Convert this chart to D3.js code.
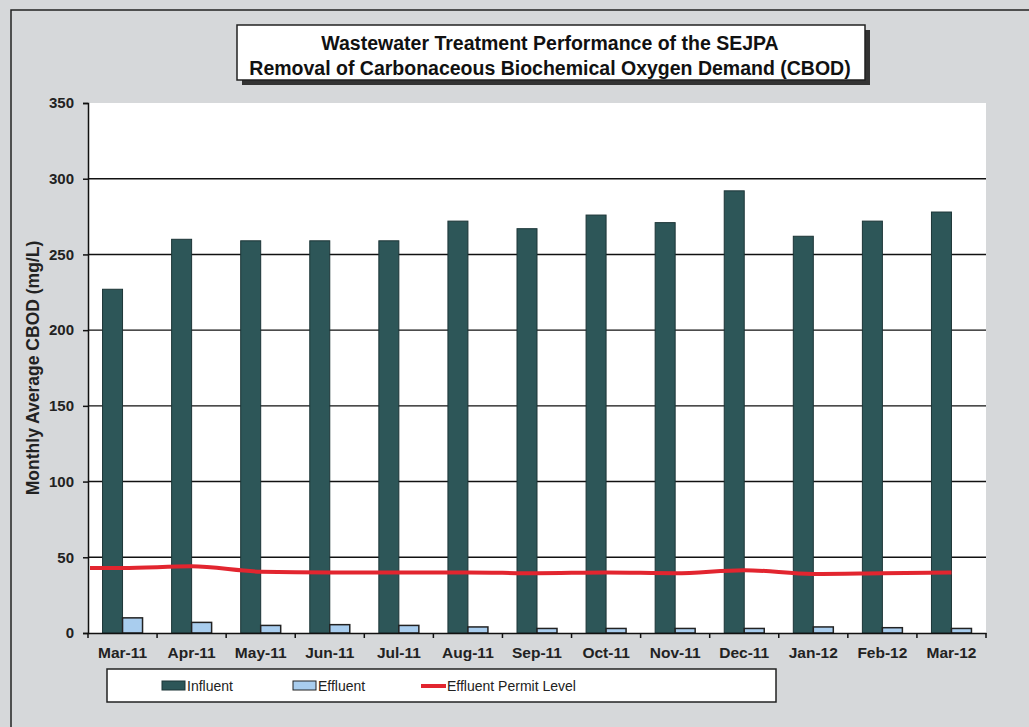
<!DOCTYPE html>
<html>
<head>
<meta charset="utf-8">
<script src="https://cdn.jsdelivr.net/npm/d3@7"></script>
<style>
  body { margin: 0; background: #d6d8da; }
  text { font-family: "Liberation Sans", Arial, sans-serif; }
</style>
</head>
<body>
<script>
const months   = ["Mar-11", "Apr-11", "May-11", "Jun-11", "Jul-11", "Aug-11", "Sep-11",
                  "Oct-11", "Nov-11", "Dec-11", "Jan-12", "Feb-12", "Mar-12"];
const influent = [227, 260, 259, 259, 259, 272, 267, 276, 271, 292, 262, 272, 278];
const effluent = [10, 7, 5, 5.5, 5, 4, 3, 3, 3, 3, 4, 3.5, 3];
const permit   = [43, 44, 40.5, 40, 40, 40, 39.5, 40, 39.5, 41.5, 39, 39.5, 40];
const yTicks   = [0, 50, 100, 150, 200, 250, 300, 350];

const width = 1029, height = 727;
const plot = {left: 88, top: 103, right: 986, bottom: 633};

const svg = d3.select("body").append("svg")
    .attr("width", width)
    .attr("height", height);

// page frame
svg.append("path")
    .attr("d", `M${width + 5},10 H11 V${height + 5}`)
    .attr("fill", "none")
    .attr("stroke", "#222")
    .attr("stroke-width", 1.5);

const x = d3.scaleBand().domain(months).range([plot.left, plot.right]);
const y = d3.scaleLinear().domain([0, 350]).range([plot.bottom, plot.top]);
const inner = d3.scaleBand().domain(["inf", "eff"]).range([0, 40]);
const groupOffset = (x.bandwidth() - 40) / 2;

// white plot area
svg.append("rect")
    .attr("x", plot.left).attr("y", plot.top)
    .attr("width", plot.right - plot.left).attr("height", plot.bottom - plot.top)
    .attr("fill", "#fff");

// gridlines
svg.append("g")
    .selectAll("line")
    .data(yTicks.filter(d => d > 0 && d < 350))
    .join("line")
      .attr("x1", plot.left).attr("x2", plot.right)
      .attr("y1", d => y(d)).attr("y2", d => y(d))
      .attr("stroke", "#111")
      .attr("stroke-width", 1.4);

// influent bars
svg.append("g")
    .selectAll("rect")
    .data(influent)
    .join("rect")
      .attr("x", (d, i) => x(months[i]) + groupOffset + inner("inf"))
      .attr("y", d => y(d))
      .attr("width", inner.bandwidth())
      .attr("height", d => y(0) - y(d))
      .attr("fill", "#2d5658")
      .attr("stroke", "#1c3537")
      .attr("stroke-width", 1);

// effluent bars
svg.append("g")
    .selectAll("rect")
    .data(effluent)
    .join("rect")
      .attr("x", (d, i) => x(months[i]) + groupOffset + inner("eff"))
      .attr("y", d => y(d))
      .attr("width", inner.bandwidth())
      .attr("height", d => y(0) - y(d))
      .attr("fill", "#a9cdee")
      .attr("stroke", "#222")
      .attr("stroke-width", 1.5);

// permit line, starts at the axis
const linePts = [[plot.left + 2, permit[0]]].concat(
    permit.map((d, i) => [x(months[i]) + x.bandwidth() / 2, d]));
svg.append("path")
    .datum(linePts)
    .attr("d", d3.line().x(d => d[0]).y(d => y(d[1])).curve(d3.curveMonotoneX))
    .attr("fill", "none")
    .attr("stroke", "#e2252f")
    .attr("stroke-width", 4);

// y axis
const yAxis = svg.append("g")
    .attr("transform", `translate(${plot.left},0)`)
    .call(d3.axisLeft(y).tickValues(yTicks).tickSize(5).tickPadding(9));
yAxis.select(".domain").attr("stroke", "#111").attr("stroke-width", 1.5);
yAxis.selectAll(".tick line").attr("stroke", "#111").attr("stroke-width", 1.5);
yAxis.selectAll("text")
    .attr("font-size", 15).attr("font-weight", "bold").attr("fill", "#222");

// x axis with ticks at category boundaries
const xAxis = svg.append("g")
    .attr("transform", `translate(0,${plot.bottom})`)
    .call(d3.axisBottom(x).tickSize(0).tickPadding(14));
xAxis.select(".domain").attr("stroke", "#111").attr("stroke-width", 1.5);
xAxis.selectAll("text")
    .attr("font-size", 15.5).attr("font-weight", "bold").attr("fill", "#222");
xAxis.selectAll("line.bound")
    .data(d3.range(months.length + 1))
    .join("line")
      .attr("class", "bound")
      .attr("x1", i => plot.left + i * x.step())
      .attr("x2", i => plot.left + i * x.step())
      .attr("y1", 0).attr("y2", 5)
      .attr("stroke", "#111").attr("stroke-width", 1.5);

// y label
svg.append("text")
    .attr("transform", `translate(39,${(plot.top + plot.bottom) / 2}) rotate(-90)`)
    .attr("text-anchor", "middle")
    .attr("font-size", 17.5).attr("font-weight", "bold").attr("fill", "#222")
    .text("Monthly Average CBOD (mg/L)");

// title box with shadow
svg.append("rect")
    .attr("x", 242).attr("y", 30).attr("width", 628).attr("height", 55)
    .attr("fill", "#333");
svg.append("rect")
    .attr("x", 237).attr("y", 25).attr("width", 628).attr("height", 55)
    .attr("fill", "#fff").attr("stroke", "#222").attr("stroke-width", 1.5);
const titleLines = ["Wastewater Treatment Performance of the SEJPA",
                    "Removal of Carbonaceous Biochemical Oxygen Demand (CBOD)"];
svg.append("g")
    .selectAll("text")
    .data(titleLines)
    .join("text")
      .attr("x", 550).attr("y", (d, i) => 50 + i * 25)
      .attr("text-anchor", "middle")
      .attr("font-size", 19.5).attr("font-weight", "bold").attr("fill", "#111")
      .text(d => d);

// legend
svg.append("rect")
    .attr("x", 107).attr("y", 669).attr("width", 669).attr("height", 33)
    .attr("fill", "#fff").attr("stroke", "#222").attr("stroke-width", 1.5);
const legend = [
  {name: "Influent", type: "bar", fill: "#2d5658", stroke: "#1c3537", x: 162},
  {name: "Effluent", type: "bar", fill: "#a9cdee", stroke: "#222", x: 293},
  {name: "Effluent Permit Level", type: "line", fill: "#e2252f", x: 421}
];
const li = svg.append("g").selectAll("g").data(legend).join("g")
    .attr("transform", d => `translate(${d.x},686)`);
li.filter(d => d.type === "bar").append("rect")
    .attr("x", 0).attr("y", -5).attr("width", 23).attr("height", 9)
    .attr("fill", d => d.fill).attr("stroke", d => d.stroke).attr("stroke-width", 1);
li.filter(d => d.type === "line").append("line")
    .attr("x1", 0).attr("x2", 25).attr("y1", 0).attr("y2", 0)
    .attr("stroke", d => d.fill).attr("stroke-width", 4);
li.append("text")
    .attr("x", d => d.type === "line" ? 26 : 25).attr("y", 5)
    .attr("font-size", 14).attr("fill", "#222")
    .text(d => d.name);
</script>
</body>
</html>
